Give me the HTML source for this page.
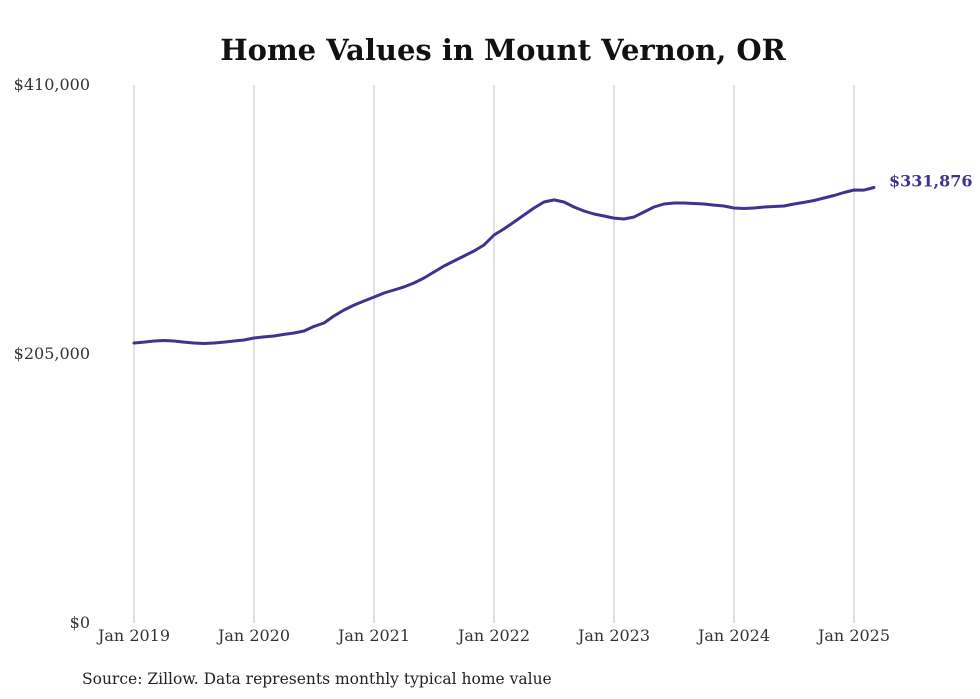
<!DOCTYPE html>
<html><head><meta charset="utf-8"><style>
body{margin:0;background:#fff;}
svg{display:block;font-family:"DejaVu Serif","Liberation Serif",serif;}
</style></head><body>
<svg id="chart" width="980" height="699">
<text x="503" y="60" text-anchor="middle" font-size="29" font-weight="bold" fill="#111">Home Values in Mount Vernon, OR</text>
<g id="grid"></g><g id="yaxis"></g><g id="xaxis"></g><g id="series"></g>
<text x="82" y="684" font-size="15.5" fill="#222" font-family="DejaVu Serif, serif">Source: Zillow. Data represents monthly typical home value</text>
</svg>
<script>
const yTicks=[0,205000,410000];
const yTickLabels=["$0","$205,000","$410,000"];
const xTickLabels=["Jan 2019","Jan 2020","Jan 2021","Jan 2022","Jan 2023","Jan 2024","Jan 2025"];
const xTickMonths=[0,12,24,36,48,60,72];
const values=[213400,214100,214900,215300,214900,214100,213400,213000,213400,214100,214900,215700,
217200,218000,218700,219900,221000,222500,226000,228600,234000,238500,242300,245400,
248400,251500,253800,256100,259100,262900,267500,272100,275900,279700,283500,288100,
295700,300300,305600,310900,316300,320800,322400,320800,317000,314000,311700,310200,
308600,307900,309400,313200,317000,319300,320100,320100,319700,319300,318500,317800,
316300,315900,316300,317000,317400,317800,319300,320500,322000,323900,325800,328100,
330000,329900,331876];
const NS="http://www.w3.org/2000/svg";
const x=m=>134+m*10;
const y=v=>623-v/410000*538;
function mk(tag,attrs,parent,text){const e=document.createElementNS(NS,tag);for(const k in attrs)e.setAttribute(k,attrs[k]);if(text!==undefined)e.textContent=text;document.getElementById(parent).appendChild(e);return e;}
xTickMonths.forEach((m,i)=>{
 const g=mk('line',{x1:x(m),x2:x(m),y1:85,y2:623,stroke:'#c4c4c4','stroke-width':1},'grid');
 
 
 const t=mk('text',{x:x(m),y:641,'text-anchor':'middle','font-size':16,fill:'#333'},'xaxis',xTickLabels[i]);
 
 
});
yTicks.forEach((v,i)=>{
 const t=mk('text',{x:90,y:y(v)+5,'text-anchor':'end','font-size':16,fill:'#333'},'yaxis',yTickLabels[i]);
 
 
});
let d=values.map((v,i)=>(i?'L':'M')+x(i).toFixed(1)+','+y(v).toFixed(1)).join(' ');
const p=mk('path',{d:d,fill:'none',stroke:'#3d3391','stroke-width':3,'stroke-linejoin':'round','stroke-linecap':'round'},'series');


const last=values[values.length-1];
const lbl=mk('text',{x:889,y:y(last)-1,'font-size':16,'font-weight':'bold',fill:'#3d3391'},'series','$'+last.toLocaleString('en-US'));


</script>
</body></html>
